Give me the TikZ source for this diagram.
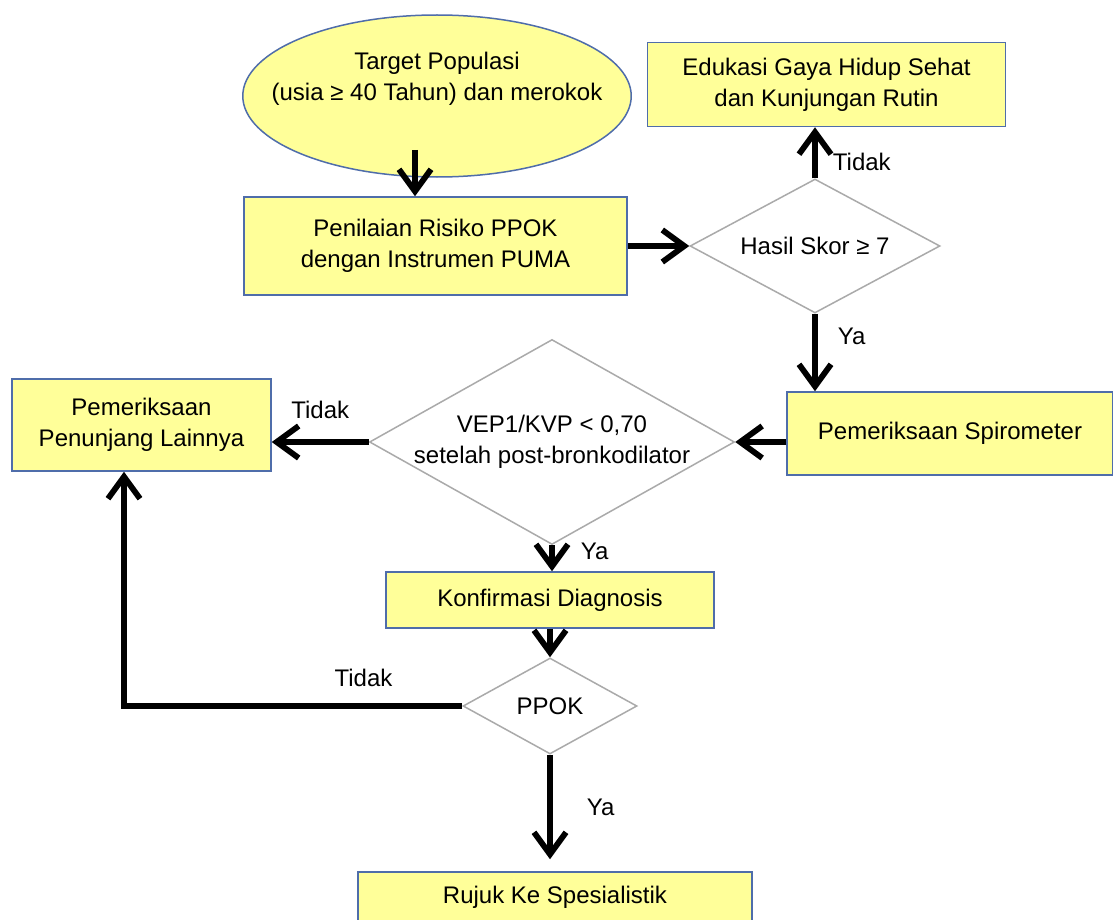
\documentclass[tikz,border=0pt]{standalone}
\usepackage{fontspec}
\setmainfont{Liberation Sans}
\usetikzlibrary{shapes.geometric,arrows.meta}

\definecolor{boxfill}{RGB}{255,255,153}
\definecolor{boxline}{RGB}{79,109,170}
\definecolor{decline}{RGB}{170,170,170}

\tikzset{
    stepbox/.style={draw=boxline, line width=0.75pt, fill=boxfill, inner sep=0pt, align=center},
    decision/.style={diamond, draw=decline, line width=0.75pt, fill=white, inner sep=0pt, align=center},
    flow/.style={line width=2.9pt, -{Straight Barb[length=11pt,width=16pt]}},
    answer/.style={inner sep=0pt},
}

\begin{document}
\begin{tikzpicture}[x=0.5pt, y=-0.5pt, font=\fontsize{12}{15.5}\selectfont]

% Page size of the reference
\useasboundingbox[fill=white] (0,0) rectangle (1113,920);

% Start of the flow
\node[
    ellipse,
    draw=boxline,
    line width=0.75pt,
    fill=boxfill,
    minimum width=193.5pt,
    minimum height=81pt,
    inner xsep=-14pt,
    inner ysep=0pt,
    text depth=20pt,
    align=center,
    ]
    (target) at (437,96) {Target Populasi\\(usia ≥ 40 Tahun) dan merokok};

% Steps
\node[stepbox, minimum width=191.5pt, minimum height=49pt] (risiko) at (435.5,246) {Penilaian Risiko PPOK\\dengan Instrumen PUMA};
\node[stepbox, minimum width=179pt, minimum height=42pt] (edukasi) at (826.5,84.5) {Edukasi Gaya Hidup Sehat\\dan Kunjungan Rutin};
\node[stepbox, minimum width=163pt, minimum height=41.5pt] (spiro) at (950,433.5) {Pemeriksaan Spirometer};
\node[stepbox, minimum width=129.5pt, minimum height=46pt] (penunjang) at (141.5,425) {Pemeriksaan\\Penunjang Lainnya};
\node[stepbox, minimum width=164pt, minimum height=28pt] (konfirmasi) at (550,600) {Konfirmasi Diagnosis};
\node[stepbox, minimum width=197pt, minimum height=25pt] (rujuk) at (555,897) {Rujuk Ke Spesialistik};

% Decisions
\node[decision, aspect=1.87, minimum width=125pt, minimum height=67pt] (skor) at (815,246) {Hasil Skor ≥ 7};
\node[decision, aspect=1.78, minimum width=182.5pt, minimum height=102.5pt, inner xsep=-4pt] (vep) at (552,442) {VEP1/KVP < 0,70\\setelah post-bronkodilator};
\node[decision, aspect=1.81, minimum width=87pt, minimum height=48pt] (ppok) at (550,706) {PPOK};

% Arrows
\coordinate (keluar) at ([xshift=-11pt,yshift=14pt]target.south);
\draw[flow] (keluar) -- (keluar |- risiko.north);
\draw[flow] (risiko.east |- skor.west) -- (skor.west);
\draw[flow] (skor.north) -- (skor.north |- edukasi.south)
    node[answer, anchor=west, pos=0.32, xshift=7.5pt] {Tidak};
\draw[flow] (skor.south) -- (skor.south |- spiro.north)
    node[answer, anchor=west, pos=0.29, xshift=10pt] {Ya};
\draw[flow] (vep.east -| spiro.west) -- (vep.east);
\draw[flow] (vep.west) -- (vep.west -| penunjang.east)
    node[answer, anchor=south, midway, yshift=10pt] {Tidak};
\draw[flow] (vep.south) -- (vep.south |- konfirmasi.north)
    node[answer, anchor=west, pos=0.25, xshift=13pt] {Ya};
\draw[flow] (konfirmasi.south) -- (ppok.north);
\draw[flow] (ppok.south) -- ([yshift=6pt]rujuk.north -| ppok.south)
    node[answer, anchor=west, midway, xshift=17pt] {Ya};
\draw[flow] (ppok.west) -| ([xshift=-8.75pt]penunjang.south)
    node[answer, anchor=south, pos=0.146, yshift=8pt] {Tidak};

\end{tikzpicture}
\end{document}
